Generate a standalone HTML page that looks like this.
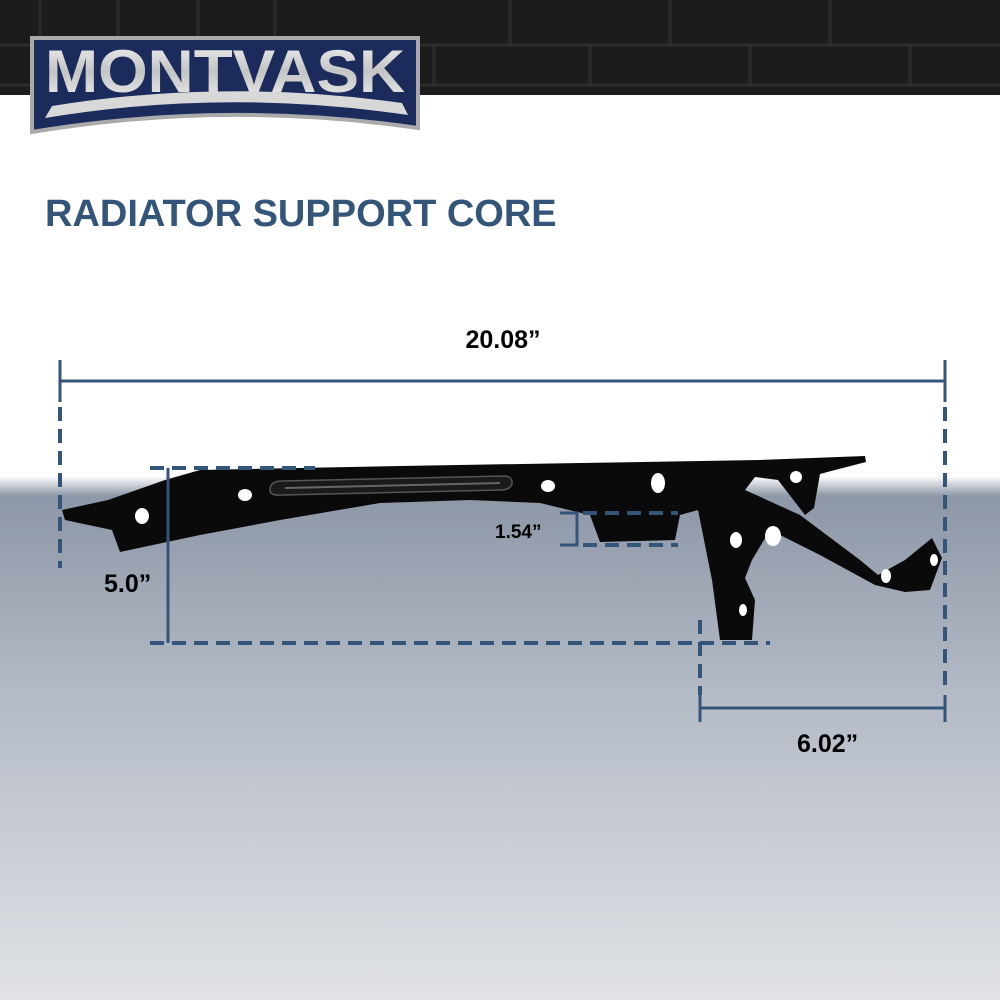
<!DOCTYPE html>
<html><head><style>
body{margin:0;width:1000px;height:1000px;overflow:hidden;font-family:"Liberation Sans",sans-serif}
</style></head><body>
<svg width="1000" height="1000" viewBox="0 0 1000 1000">
<defs>
<linearGradient id="bg" x1="0" y1="0" x2="0" y2="1">
<stop offset="0" stop-color="#8e97a7"/><stop offset="0.4" stop-color="#b4bbc6"/><stop offset="1" stop-color="#e0e2e5"/>
</linearGradient>
<linearGradient id="tr" x1="0" y1="0" x2="0" y2="1">
<stop offset="0" stop-color="#ffffff"/><stop offset="1" stop-color="#8e97a7"/>
</linearGradient>
<linearGradient id="sil" x1="0" y1="0" x2="0" y2="1">
<stop offset="0" stop-color="#f4f4f4"/><stop offset="0.5" stop-color="#c4c4c4"/><stop offset="1" stop-color="#f0f0f0"/>
</linearGradient>
</defs>
<rect width="1000" height="1000" fill="#fff"/>
<rect y="495" width="1000" height="505" fill="url(#bg)"/>
<rect y="476" width="1000" height="20" fill="url(#tr)"/>
<rect width="1000" height="95" fill="#1c1c1c"/>
<g stroke="#2c2c2c" stroke-width="3">
<line x1="0" y1="45" x2="1000" y2="45"/><line x1="0" y1="85" x2="1000" y2="85"/>
<line x1="40" y1="0" x2="40" y2="45"/><line x1="118" y1="0" x2="118" y2="45"/><line x1="198" y1="0" x2="198" y2="45"/><line x1="275" y1="0" x2="275" y2="45"/><line x1="434" y1="45" x2="434" y2="85"/><line x1="510" y1="0" x2="510" y2="45"/><line x1="590" y1="45" x2="590" y2="85"/><line x1="670" y1="0" x2="670" y2="45"/><line x1="750" y1="45" x2="750" y2="85"/><line x1="830" y1="0" x2="830" y2="45"/><line x1="910" y1="45" x2="910" y2="85"/>
</g>
<!-- logo -->
<path d="M32 38 L418 38 L418 128 Q225 100 32 132 Z" fill="#1b2b5c" stroke="#aaa" stroke-width="4"/>
<text x="225" y="92" text-anchor="middle" font-size="60" font-weight="bold" fill="url(#sil)" font-family="Liberation Sans" textLength="360" lengthAdjust="spacingAndGlyphs">MONTVASK</text>
<path d="M45 118 Q225 88 408 115 L402 103 Q225 78 52 106 Z" fill="#d8d8d8"/>
<text x="45" y="226" font-size="38" font-weight="bold" fill="#34557a">RADIATOR SUPPORT CORE</text>
<text x="503" y="348" text-anchor="middle" font-size="25" font-weight="bold" fill="#000">20.08”</text>
<!-- part -->
<path d="M62 510 L108 500 L165 480 L200 470 L400 466 L580 463 L760 460 L865 456 L866 462 L835 470 L820 474 L814 508 L805 515 L778 480 L755 477 L745 490 L800 515 L860 560 L878 575 L905 560 L932 538 L942 558 L930 590 L905 592 L875 585 L820 555 L770 530 L752 560 L745 578 L755 600 L752 640 L720 640 L712 580 L700 520 L698 510 L680 515 L675 540 L600 542 L590 515 L540 503 L470 500 L380 503 L280 520 L200 535 L120 552 L112 530 L65 520 Z" fill="#0a0a0a"/>
<path d="M270 490 Q270 481 282 481 L505 476 Q513 477 512 484 Q510 490 500 490 L282 495 Q270 496 270 490Z" fill="#1a1a1a" stroke="#555" stroke-width="1.5"/>
<line x1="285" y1="488" x2="500" y2="483" stroke="#666" stroke-width="2"/>
<g fill="#fff">
<ellipse cx="142" cy="516" rx="7" ry="8"/><ellipse cx="245" cy="495" rx="7" ry="6"/><ellipse cx="548" cy="486" rx="7" ry="6"/><ellipse cx="658" cy="483" rx="7" ry="10"/><ellipse cx="796" cy="477" rx="6" ry="6"/><ellipse cx="736" cy="540" rx="6" ry="8"/><ellipse cx="773" cy="536" rx="8" ry="10"/><ellipse cx="886" cy="576" rx="5" ry="7"/><ellipse cx="934" cy="560" rx="4" ry="6"/><ellipse cx="743" cy="610" rx="4" ry="6"/>
</g>
<!-- dimensions -->
<g stroke="#34557a" stroke-width="3" fill="none">
<line x1="60" y1="381" x2="945" y2="381"/>
<line x1="60" y1="360" x2="60" y2="402"/><line x1="945" y1="360" x2="945" y2="402"/>
<line x1="168" y1="468" x2="168" y2="643"/>
<path d="M560 513 H577 V545 H560"/>
<line x1="700" y1="708" x2="945" y2="708"/>
<line x1="700" y1="695" x2="700" y2="722"/><line x1="945" y1="695" x2="945" y2="722"/>
</g>
<g stroke="#34557a" stroke-width="4" fill="none" stroke-dasharray="14 8">
<line x1="60" y1="407" x2="60" y2="568"/>
<line x1="945" y1="407" x2="945" y2="692"/>
<line x1="150" y1="468" x2="315" y2="468"/>
<line x1="150" y1="643" x2="770" y2="643"/>
<line x1="583" y1="513" x2="678" y2="513"/>
<line x1="583" y1="545" x2="678" y2="545"/>
<line x1="700" y1="620" x2="700" y2="695"/>
</g>
<text x="104" y="592" font-size="25" font-weight="bold" fill="#000">5.0”</text>
<text x="495" y="538" font-size="19" font-weight="bold" fill="#000">1.54”</text>
<text x="797" y="752" font-size="25" font-weight="bold" fill="#000">6.02”</text>
</svg>
</body></html>
